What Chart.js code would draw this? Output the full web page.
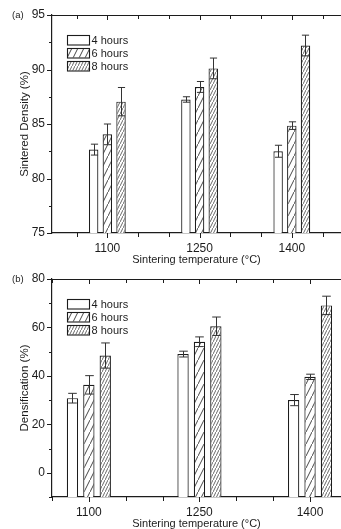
<!DOCTYPE html>
<html><head><meta charset="utf-8">
<script src="https://cdn.jsdelivr.net/npm/chart.js@4.4.0/dist/chart.umd.min.js"></script>
<style>
html,body{margin:0;padding:0;background:#fff;overflow:hidden;}
#wrap{position:relative;width:341px;height:529px;}
canvas{position:absolute;left:0;}
#c1{top:0}
#c2{top:264px}
</style></head><body>
<div id="wrap"><canvas id="c1" width="341" height="265"></canvas><canvas id="c2" width="341" height="265"></canvas></div>
<script>
// ---- data ----
const temperatures = [1100, 1250, 1400];
const durationLabels = ['4 hours', '6 hours', '8 hours'];
// (a) Sintered density (%)
const density4h = [82.65, 87.25, 82.5];
const density6h = [84.05, 88.4, 84.85];
const density8h = [87.05, 90.1, 92.2];
const densityErr4h = [0.5, 0.25, 0.55];
const densityErr6h = [0.95, 0.5, 0.35];
const densityErr8h = [1.3, 0.95, 0.95];
// (b) Densification (%)
const densif4h = [30.8, 49.0, 30.0];
const densif6h = [36.3, 54.1, 39.6];
const densif8h = [48.4, 60.5, 69.1];
const densifErr4h = [2.0, 1.2, 2.3];
const densifErr6h = [3.8, 2.0, 1.1];
const densifErr8h = [5.2, 3.8, 3.8];
// x tick marks (every 50 °C)
const xTicksA = [1050, 1100, 1150, 1200, 1250, 1300, 1350, 1400, 1450];
const xTicksB = [1050, 1100, 1150, 1200, 1250, 1300, 1350, 1400];

const INK = '#1c1c1c';
const FONT = "'Liberation Sans', Arial, sans-serif";

function hatch(w, h, lw, color) {
  const c = document.createElement('canvas');
  c.width = w; c.height = h;
  const g = c.getContext('2d');
  g.fillStyle = '#fff'; g.fillRect(0, 0, w, h);
  g.strokeStyle = color; g.lineWidth = lw;
  g.beginPath();
  g.moveTo(-w * 0.5, h * 1.5); g.lineTo(w * 1.5, -h * 0.5);
  g.stroke();
  return g.createPattern(c, 'repeat');
}
const fills = ['#ffffff', hatch(6, 12, 0.9, '#333'), hatch(3, 6, 0.8, '#444')];

const deco = {
  id: 'deco',
  afterDatasetsDraw(chart) {
    const o = chart.options.plugins.deco;
    const y = chart.scales.y;
    const ctx = chart.ctx;
    ctx.save();
    ctx.strokeStyle = '#333'; ctx.lineWidth = 1;
    chart.data.datasets.forEach((ds, i) => {
      const meta = chart.getDatasetMeta(i);
      meta.data.forEach((bar, j) => {
        const v = ds.data[j].y, e = o.errors[i][j];
        const x = Math.round(bar.x) + 0.5;
        const yt = y.getPixelForValue(v + e), yb = y.getPixelForValue(v - e);
        const hw = bar.width * 0.38;
        ctx.beginPath();
        ctx.moveTo(x, yt); ctx.lineTo(x, yb);
        ctx.moveTo(x - hw, yt); ctx.lineTo(x + hw, yt);
        ctx.moveTo(x - hw, yb); ctx.lineTo(x + hw, yb);
        ctx.stroke();
      });
    });
    ctx.restore();
  },
  afterDraw(chart) {
    const o = chart.options.plugins.deco;
    const {ctx, chartArea: a} = chart;
    const x = chart.scales.x, y = chart.scales.y;
    ctx.save();
    ctx.strokeStyle = INK; ctx.lineWidth = 1.2;
    // top frame line
    ctx.beginPath(); ctx.moveTo(a.left, a.top + 0.5); ctx.lineTo(a.right, a.top + 0.5); ctx.stroke();
    ctx.lineWidth = 1;
    // x ticks bottom (outward) and top (inward)
    o.xTicks.forEach(v => {
      const px = Math.round(x.getPixelForValue(v)) + 0.5;
      const len = temperatures.includes(v) ? 5 : 4;
      ctx.beginPath();
      ctx.moveTo(px, a.bottom); ctx.lineTo(px, a.bottom + len);
      ctx.moveTo(px, a.top); ctx.lineTo(px, a.top + len);
      ctx.stroke();
    });
    // y ticks (outward)
    y.ticks.forEach(t => {
      const py = Math.round(y.getPixelForValue(t.value)) + 0.5;
      const len = (t.value % o.yMajor === 0) ? 5 : 3;
      ctx.beginPath(); ctx.moveTo(a.left - len, py); ctx.lineTo(a.left, py); ctx.stroke();
    });
    // panel label
    ctx.fillStyle = INK;
    ctx.font = '9.5px ' + FONT;
    ctx.textBaseline = 'middle'; ctx.textAlign = 'left';
    ctx.fillText(o.panel, 12, a.top);
    // legend
    ctx.font = '11px ' + FONT;
    chart.data.datasets.forEach((ds, i) => {
      const bx = a.left + 15, by = a.top + 20 + i * 13;
      ctx.fillStyle = ds.backgroundColor;
      ctx.fillRect(bx, by, 22, 9.5);
      ctx.strokeStyle = INK; ctx.lineWidth = 1.1;
      ctx.strokeRect(bx + 0.5, by + 0.5, 22, 9.5);
      ctx.fillStyle = INK;
      ctx.fillText(ds.label, bx + 24.5, by + 5.5);
    });
    ctx.restore();
  }
};

function makeChart(id, vals, errs, yMin, yMax, yStep, yMajor, yTitle, xMin, xMax, xTicks, panel) {
  return new Chart(document.getElementById(id), {
    type: 'bar',
    data: {
      datasets: vals.map((arr, i) => ({
        label: durationLabels[i],
        data: temperatures.map((t, j) => ({x: t, y: arr[j]})),
        backgroundColor: fills[i],
        borderColor: INK,
        borderWidth: 1.2,
        borderSkipped: 'start',
        base: yMin,
        categoryPercentage: 0.445,
        barPercentage: 0.69
      }))
    },
    options: {
      responsive: false,
      devicePixelRatio: 1,
      animation: false,
      layout: {padding: {top: 15, right: 0, left: 0, bottom: 0}},
      plugins: {
        legend: {display: false},
        tooltip: {enabled: false},
        deco: {errors: errs, panel: panel, xTicks: xTicks, yMajor: yMajor}
      },
      scales: {
        x: {
          type: 'linear', min: xMin, max: xMax, offset: false,
          afterBuildTicks: s => { s.ticks = temperatures.map(v => ({value: v})); },
          afterFit: s => { s.height = 32; },
          grid: {display: false, drawTicks: true, tickLength: 5},
          border: {display: true, color: INK, width: 1.2},
          ticks: {autoSkip: false, maxRotation: 0, padding: 3, color: INK,
                  font: {family: FONT, size: 12}, callback: v => String(v)},
          title: {display: true, text: 'Sintering temperature (°C)', color: INK,
                  font: {family: FONT, size: 11, lineHeight: 1}, padding: {top: 0, bottom: 0}}
        },
        y: {
          min: yMin, max: yMax,
          afterFit: s => { s.width = 52; },
          grid: {display: false, drawTicks: true, tickLength: 5},
          border: {display: true, color: INK, width: 1.2},
          ticks: {stepSize: yStep, padding: 2, color: INK, font: {family: FONT, size: 12},
                  callback: v => (v % yMajor === 0 ? String(v) : '')},
          title: {display: true, text: yTitle, color: INK,
                  font: {family: FONT, size: 11.5, lineHeight: 1}, padding: {top: 19, bottom: 0}}
        }
      }
    },
    plugins: [deco]
  });
}

makeChart('c1', [density4h, density6h, density8h], [densityErr4h, densityErr6h, densityErr8h],
  75, 95, 2.5, 5, 'Sintered Density (%)', 1010, 1480, xTicksA, '(a)');
makeChart('c2', [densif4h, densif6h, densif8h], [densifErr4h, densifErr6h, densifErr8h],
  -10, 80, 10, 20, 'Densification (%)', 1050, 1442, xTicksB, '(b)');
</script>
</body></html>
